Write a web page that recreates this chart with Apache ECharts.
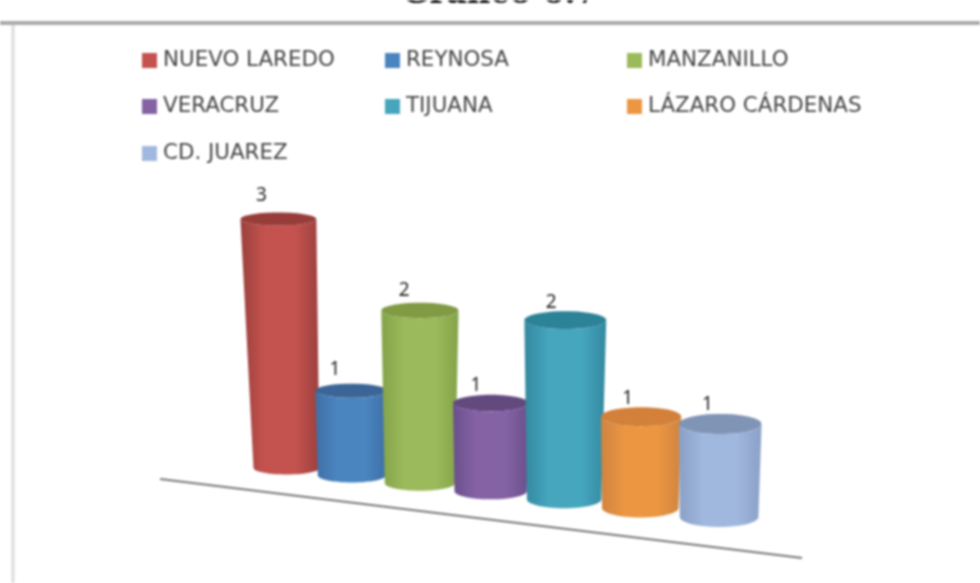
<!DOCTYPE html>
<html>
<head>
<meta charset="utf-8">
<style>
  html, body { margin: 0; padding: 0; background: #fff; }
  #chart { width: 980px; height: 583px; filter: blur(0.8px); }
</style>
<script src="https://cdn.jsdelivr.net/npm/echarts@6/dist/echarts.min.js"></script>
</head>
<body>
<div id="chart"></div>
<script>
const categories = ['NUEVO LAREDO', 'REYNOSA', 'MANZANILLO', 'VERACRUZ', 'TIJUANA', 'LÁZARO CÁRDENAS', 'CD. JUAREZ'];
const values = [3, 1, 2, 1, 2, 1, 1];
const titleText = 'Gráfico 6.7';

// colores: centro, borde, tapa
const bodyColors = ['#c4524e', '#4a85c0', '#9bba5b', '#8462a4', '#45a6be', '#ec9642', '#a1b8de'];
const edgeColors = ['#9a403d', '#3f6fa6', '#84a349', '#6a4f8c', '#33889f', '#cf8440', '#8aa0c6'];
const topColors = ['#963d3a', '#3b6596', '#809b44', '#64497f', '#2c8297', '#d2803a', '#8094b6'];

// leyenda en 3 columnas
const legendCols = [142, 385, 627];
const legendRows = [50, 96, 143];

// perspectiva del gráfico 3D
const SLOPE = 0.113;
const X0 = 286.5;

const ellipsePts = (cx, cy, rx, ry, from, to) => {
    const pts = [];
    for (let k = 0; k <= 30; k++) {
        const a = from + (to - from) * k / 30;
        pts.push([cx + rx * Math.cos(a), cy + ry * Math.sin(a)]);
    }
    return pts;
};

const renderCylinder = (params, api) => {
    const i = api.value(0);
    const v = api.value(1);
    const base = api.coord([i, 0]);
    const head = api.coord([i, v]);

    // el eje se abre hacia el frente
    const bx = base[0] + 1.35 * i * i;
    const by = base[1] + SLOPE * (bx - X0);
    const h = (base[1] - head[1]) * (1 + 0.02 * i);
    const lean = v * (i < 2 ? -2.7 * Math.pow(1 - i / 2, 2) : (i - 2) * 0.3);
    const tx = bx + lean;
    const ty = by - h;
    const bw = (66 + 2.1 * i) / 2;
    const tw = bw * (1 + 0.05 * v);
    const ry = 6.5 + 0.6 * i;

    const bodyFill = {
        type: 'linear', x: 0, y: 0, x2: 1, y2: 0,
        colorStops: [
            { offset: 0, color: edgeColors[i] },
            { offset: 0.3, color: bodyColors[i] },
            { offset: 0.7, color: bodyColors[i] },
            { offset: 1, color: edgeColors[i] }
        ]
    };
    const body = ellipsePts(bx, by, bw, ry, 0, Math.PI)
        .concat(ellipsePts(tx, ty, tw, ry, Math.PI, 0));
    return {
        type: 'group',
        children: [
            { type: 'polygon', shape: { points: body }, style: { fill: bodyFill } },
            { type: 'polygon', shape: { points: ellipsePts(tx, ty, tw, ry, 0, Math.PI * 2) }, style: { fill: topColors[i] } },
            {
                type: 'text',
                x: tx - 17 + 0.7 * i,
                y: ty - ry - 9 - Math.max(0, 8 - 2.5 * i),
                style: {
                    text: String(v),
                    fill: '#222',
                    font: '19px "Noto Sans"',
                    align: 'center',
                    verticalAlign: 'middle'
                }
            }
        ]
    };
};

const myChart = echarts.init(document.getElementById('chart'), null, { renderer: 'canvas' });

myChart.setOption({
    animation: false,
    backgroundColor: '#fff',
    title: {
        text: titleText,
        left: 495,
        top: -26,
        textAlign: 'center',
        textStyle: { fontFamily: 'DejaVu Serif', fontWeight: 'bold', fontSize: 32, color: '#111' }
    },
    grid: { left: X0, width: 384, top: 219, height: 249 },
    xAxis: { type: 'category', data: categories, boundaryGap: false, show: false },
    yAxis: { type: 'value', min: 0, max: 3, show: false },
    legend: categories.map((name, i) => ({
        data: [name],
        left: legendCols[i % 3],
        top: legendRows[Math.floor(i / 3)],
        padding: 0,
        icon: 'rect',
        itemWidth: 15,
        itemHeight: 15,
        itemGap: 0,
        selectedMode: false,
        textStyle: { fontFamily: 'DejaVu Sans', fontSize: 21.4, color: '#444', padding: [0, 0, 0, 1] }
    })),
    series: categories.map((name, i) => ({
        type: 'custom',
        name: name,
        renderItem: renderCylinder,
        itemStyle: { color: bodyColors[i] },
        data: [[name, values[i]]]
    })),
    graphic: [
        { type: 'line', shape: { x1: 0, y1: 23, x2: 980, y2: 23 }, style: { stroke: '#aaaaaa', lineWidth: 4 } },
        { type: 'line', shape: { x1: 13, y1: 25, x2: 13, y2: 583 }, style: { stroke: '#dcdcdc', lineWidth: 3 } },
        { type: 'line', shape: { x1: 160, y1: 479, x2: 802, y2: 558 }, style: { stroke: '#777777', lineWidth: 2 } }
    ]
});
</script>
</body>
</html>
